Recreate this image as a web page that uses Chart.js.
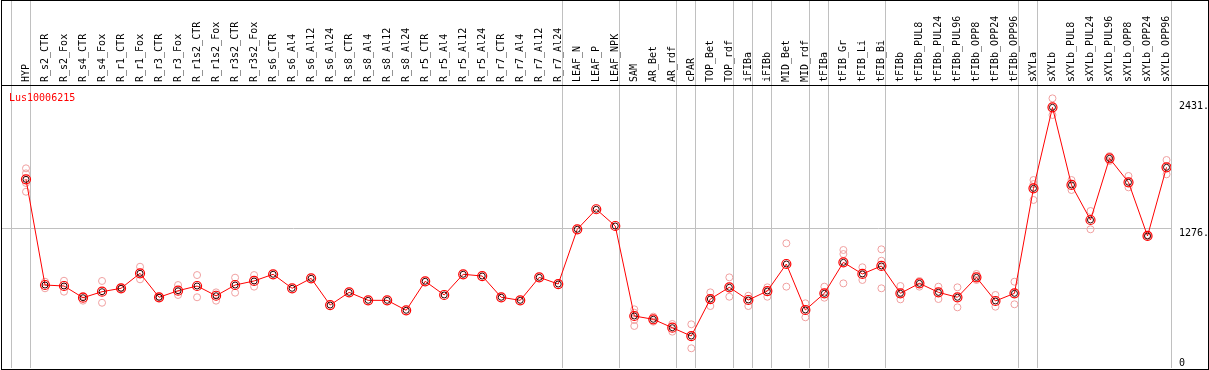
<!DOCTYPE html>
<html>
<head>
<meta charset="utf-8">
<script src="https://cdn.jsdelivr.net/npm/chart.js@4/dist/chart.umd.min.js"></script>
<style>
  html, body { margin: 0; padding: 0; background: #fff; }
  canvas { display: block; }
</style>
</head>
<body>
<canvas id="chart" width="1209" height="370"></canvas>
<script>
const geneName = "Lus10006215";

const categories = [
  "HYP",
  "R_s2_CTR", "R_s2_Fox", "R_s4_CTR", "R_s4_Fox", "R_r1_CTR", "R_r1_Fox",
  "R_r3_CTR", "R_r3_Fox", "R_r1s2_CTR", "R_r1s2_Fox", "R_r3s2_CTR", "R_r3s2_Fox",
  "R_s6_CTR", "R_s6_Al4", "R_s6_Al12", "R_s6_Al24", "R_s8_CTR", "R_s8_Al4",
  "R_s8_Al12", "R_s8_Al24", "R_r5_CTR", "R_r5_Al4", "R_r5_Al12", "R_r5_Al24",
  "R_r7_CTR", "R_r7_Al4", "R_r7_Al12", "R_r7_Al24",
  "LEAF_N", "LEAF_P", "LEAF_NPK",
  "SAM", "AR_Bet", "AR_rdf", "cPAR", "TOP_Bet", "TOP_rdf", "iFIBa", "iFIBb",
  "MID_Bet", "MID_rdf", "tFIBa", "tFIB_Gr", "tFIB_Li", "tFIB_Bi",
  "tFIBb", "tFIBb_PUL8", "tFIBb_PUL24", "tFIBb_PUL96", "tFIBb_OPP8", "tFIBb_OPP24", "tFIBb_OPP96",
  "sXYLa", "sXYLb", "sXYLb_PUL8", "sXYLb_PUL24", "sXYLb_PUL96", "sXYLb_OPP8", "sXYLb_OPP24", "sXYLb_OPP96"
];

// mean expression per sample
const means = [
  1723,
  758, 749, 642, 697, 728, 865, 646, 706, 749, 660, 758, 795,
  856, 728, 819, 575, 691, 618, 618, 527, 792, 667, 856, 840, 646, 618, 828, 767,
  1267, 1450, 1297,
  475, 445, 368, 292, 630, 737, 621, 703, 950, 530,
  682, 965, 859, 932,
  682, 773, 691, 646, 828, 612, 682,
  1641, 2381, 1672, 1352, 1915, 1696, 1206, 1833
];

// individual replicates (empty = single sample)
const reps = [
  [1824, 1778, 1690, 1610],
  [788, 728], [797, 697], [658, 615], [795, 596], [735, 722], [925, 810],
  [652, 640], [758, 667], [849, 646], [691, 615], [825, 688], [849, 743],
  [], [], [], [], [], [], [], [], [], [], [], [], [], [], [], [],
  [], [], [],
  [536, 505, 438, 384], [469, 423], [402, 332], [399, 180], [691, 566], [828, 651],
  [660, 566], [737, 651], [1139, 743], [591, 463],
  [743, 642], [1078, 1041, 773], [920, 804], [1084, 980, 728],
  [749, 627], [795, 743], [743, 630], [737, 554], [859, 804], [667, 560], [788, 582],
  [1717, 1680, 1535], [2463, 2311], [1717, 1626], [1434, 1267], [1936, 1891],
  [1754, 1650], [1215, 1200], [1900, 1769]
];

const yTicks = [1276, 2431];
const yMax = 2585;

// last sample of each group (separator drawn just after it)
const groupEnds = [-1, 0, 28, 31, 34, 35, 37, 38, 39, 41, 42, 45, 52, 53, 60];

Chart.defaults.font.family = "'DejaVu Sans Mono', monospace";
Chart.defaults.font.size = 10;
Chart.defaults.color = "#000";

const meanPoints = means.map((v, i) => ({ x: i, y: v }));
const repPoints = [];
reps.forEach((list, i) => list.forEach(v => repPoints.push({ x: i, y: v })));

function noPad(s) {
  s.paddingLeft = 0;
  s.paddingRight = 0;
  s.paddingTop = 0;
  s.paddingBottom = 0;
}

const frame = {
  id: "frame",
  beforeDatasetsDraw(chart) {
    const { ctx, chartArea, scales } = chart;
    ctx.save();
    ctx.strokeStyle = "#c0c0c0";
    ctx.lineWidth = 1;
    groupEnds.forEach(g => {
      const x = Math.round(scales.x.getPixelForValue(g + 0.21)) + 0.5;
      ctx.beginPath();
      ctx.moveTo(x, 0);
      ctx.lineTo(x, chartArea.bottom);
      ctx.stroke();
    });
    ctx.restore();
  },
  afterDraw(chart) {
    const { ctx, chartArea, scales } = chart;
    ctx.save();
    ctx.strokeStyle = "#000";
    ctx.lineWidth = 1;
    ctx.strokeRect(1.5, 0.5, chart.width - 2, chartArea.bottom + 1);
    ctx.beginPath();
    ctx.moveTo(1, chartArea.top + 0.5);
    ctx.lineTo(chart.width, chartArea.top + 0.5);
    ctx.stroke();
    ctx.font = "10px 'DejaVu Sans Mono', monospace";
    // zero label sits above the baseline, like the other axis labels it uses the y scale
    ctx.fillStyle = "#000";
    ctx.textBaseline = "bottom";
    ctx.fillText("0", scales.y.left + 8, scales.y.getPixelForValue(0));
    ctx.fillStyle = "#ff0000";
    ctx.textBaseline = "alphabetic";
    ctx.fillText(geneName, chartArea.left + 8, chartArea.top + 16);
    ctx.restore();
  }
};

new Chart(document.getElementById("chart"), {
  type: "line",
  data: {
    datasets: [
      {
        data: meanPoints,
        borderColor: "#ff0000",
        borderWidth: 1,
        pointRadius: 4.5,
        pointBorderColor: "#ff0000",
        pointBorderWidth: 1.2,
        pointBackgroundColor: "rgba(0,0,0,0)",
        order: 1
      },
      {
        type: "scatter",
        data: meanPoints,
        pointRadius: 3,
        pointBorderColor: "#300000",
        pointBorderWidth: 1,
        pointBackgroundColor: "rgba(0,0,0,0)",
        order: 0
      },
      {
        type: "scatter",
        data: repPoints,
        pointRadius: 3.5,
        pointBorderColor: "#f0a0a0",
        pointBorderWidth: 1,
        pointBackgroundColor: "rgba(0,0,0,0)",
        order: 2
      }
    ]
  },
  options: {
    responsive: false,
    animation: false,
    devicePixelRatio: 1,
    layout: { autoPadding: false, padding: { left: 1, right: 0, top: 0, bottom: 2 } },
    plugins: { legend: { display: false }, tooltip: { enabled: false } },
    scales: {
      x: {
        type: "linear",
        position: "top",
        min: -1.315,
        max: 60.235,
        afterBuildTicks: s => { s.ticks = categories.map((c, i) => ({ value: i })); },
        afterFit: s => { s.height = 85; noPad(s); },
        grid: { display: false, drawTicks: false },
        border: { display: false },
        ticks: {
          autoSkip: false,
          minRotation: 90,
          maxRotation: 90,
          padding: 3,
          labelOffset: 12,
          callback: v => categories[v]
        }
      },
      y: {
        position: "right",
        min: 0,
        max: yMax,
        afterBuildTicks: s => { s.ticks = yTicks.map(v => ({ value: v })); },
        afterFit: s => { s.width = 38; noPad(s); },
        grid: {
          drawTicks: false,
          color: c => (c.tick && c.tick.value === yTicks[0]) ? "#c0c0c0" : "rgba(0,0,0,0)"
        },
        border: { display: false },
        ticks: { align: "start", padding: 8, callback: v => v + "." }
      }
    }
  },
  plugins: [frame]
});
</script>
</body>
</html>
